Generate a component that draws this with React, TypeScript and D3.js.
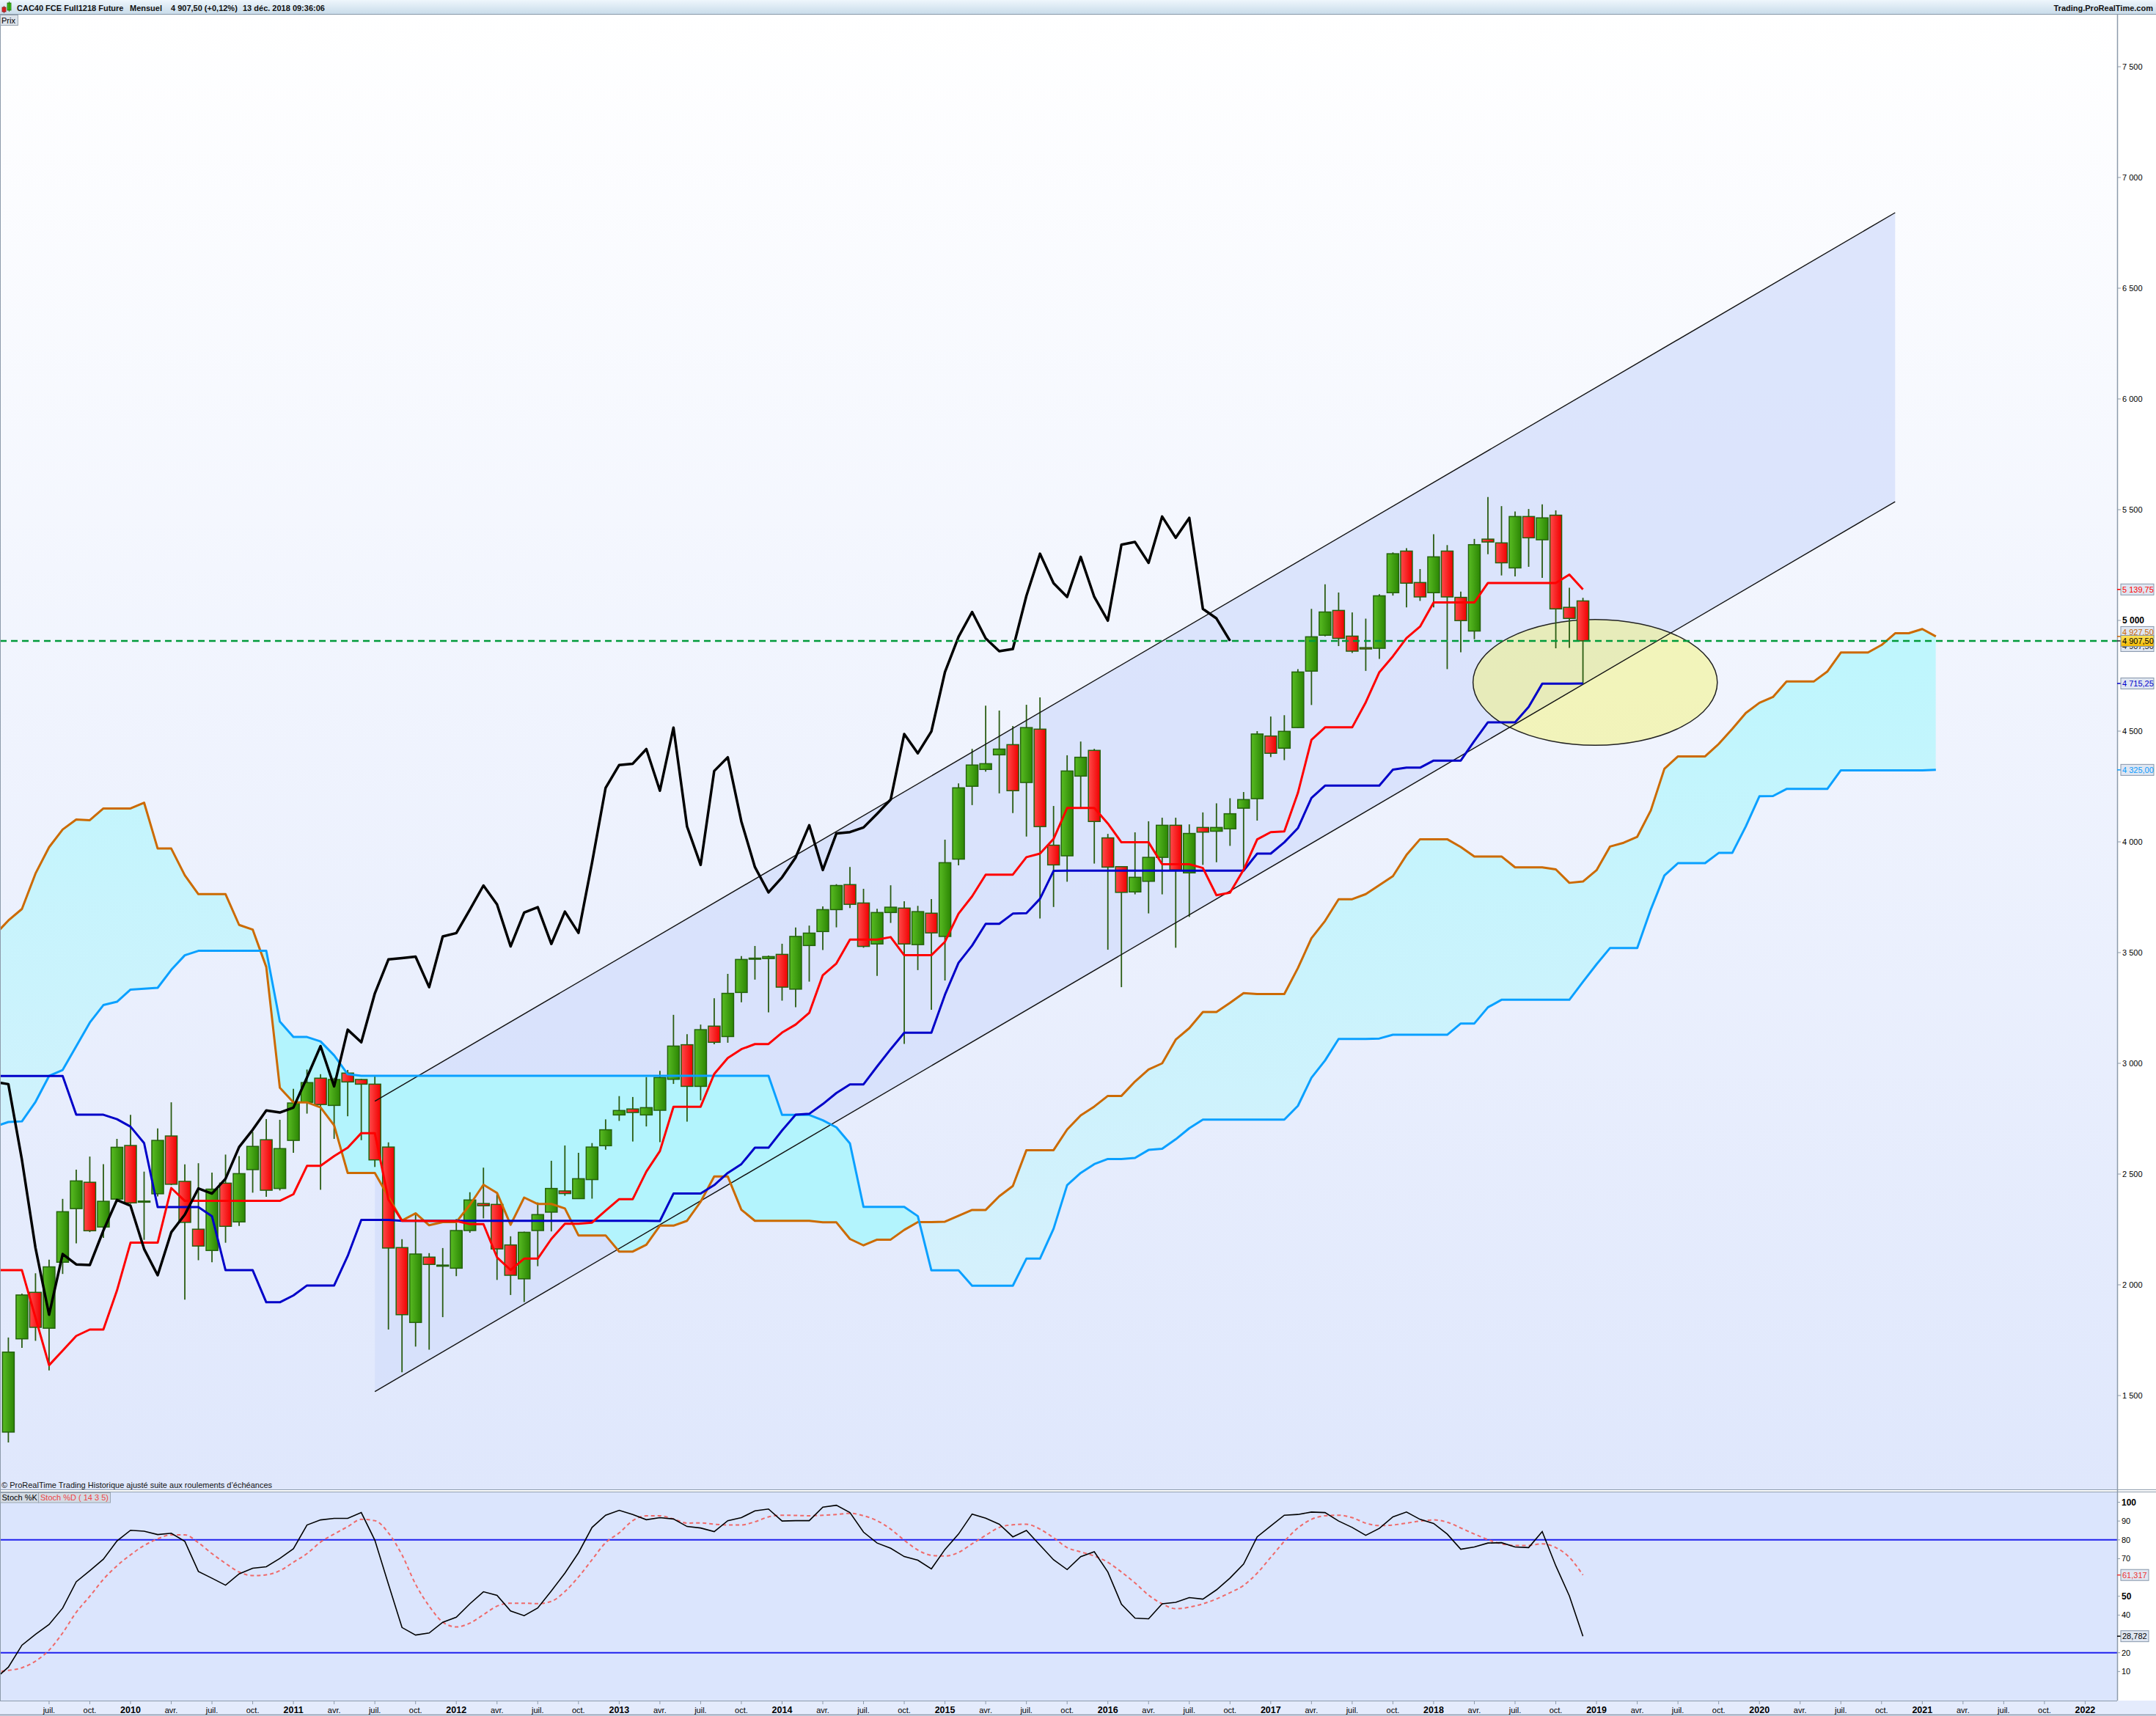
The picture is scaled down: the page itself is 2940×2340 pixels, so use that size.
import { useEffect, useRef } from 'react';
import * as d3 from 'd3';

/**
 * CAC40 FCE monthly chart (ProRealTime style)
 *
 * Candles + Ichimoku + channel, stochastic panel below
 */

// Monthly candles, month index 0 = April 2009, last = December 2018
const opens = [
  1335, 1756, 1966, 1804, 2102, 2344, 2463, 2261, 2387, 2629,
  2378, 2411, 2672, 2467, 2251, 2155, 2459, 2284, 2520, 2655,
  2435, 2652, 2824, 2933, 2810, 2956, 2927, 2906, 2622, 2168,
  1830, 2125, 2087, 2075, 2245, 2367, 2363, 2180, 2027, 2245,
  2328, 2424, 2389, 2475, 2628, 2767, 2794, 2767, 2788, 2928,
  3084, 2896, 3168, 3121, 3320, 3473, 3473, 3492, 3335, 3532,
  3595, 3694, 3807, 3724, 3539, 3681, 3701, 3536, 3678, 3573,
  3922, 4251, 4327, 4393, 4439, 4268, 4509, 3985, 3937, 4297,
  4413, 4018, 3888, 3774, 3822, 3930, 4075, 3860, 4065, 4048,
  4059, 4152, 4195, 4478, 4423, 4516, 4771, 4933, 5045, 4929,
  4877, 4874, 5125, 5313, 5171, 5125, 5313, 5104, 4952, 5367,
  5350, 5237, 5469, 5364, 5475, 5059, 5088,
];
const highs = [
  1762, 1960, 2052, 2113, 2388, 2520, 2579, 2545, 2659, 2767,
  2511, 2706, 2824, 2544, 2549, 2507, 2588, 2581, 2690, 2748,
  2745, 2885, 2972, 2951, 2935, 2970, 2930, 2943, 2643, 2206,
  2324, 2143, 2166, 2297, 2418, 2529, 2413, 2219, 2240, 2372,
  2560, 2629, 2596, 2640, 2747, 2852, 2848, 2938, 2966, 3219,
  3132, 3175, 3294, 3404, 3484, 3530, 3487, 3540, 3613, 3622,
  3709, 3809, 3887, 3788, 3698, 3804, 3732, 3711, 3742, 4010,
  4264, 4420, 4615, 4593, 4523, 4619, 4652, 4162, 4391, 4453,
  4420, 4036, 3888, 4043, 4093, 4109, 4109, 4079, 4133, 4174,
  4197, 4225, 4500, 4566, 4572, 4780, 5052, 5163, 5126, 5036,
  5008, 5118, 5307, 5326, 5232, 5389, 5340, 5130, 5368, 5557,
  5516, 5492, 5503, 5524, 5497, 5147, 5102,
];
const lows = [
  1288, 1715, 1747, 1613, 2049, 2187, 2238, 2212, 2380, 2365,
  2203, 2399, 2450, 1933, 2111, 2102, 2190, 2266, 2416, 2397,
  2426, 2596, 2773, 2429, 2659, 2761, 2653, 2532, 1798, 1605,
  1721, 1707, 1854, 2039, 2235, 2300, 2022, 1954, 1922, 2084,
  2241, 2402, 2389, 2389, 2610, 2740, 2647, 2715, 2644, 2907,
  2737, 2833, 3086, 3093, 3276, 3378, 3230, 3283, 3253, 3369,
  3512, 3614, 3701, 3522, 3395, 3634, 3088, 3421, 3242, 3374,
  3894, 4166, 4317, 4219, 4130, 4024, 3654, 3706, 3820, 4151,
  3902, 3513, 3344, 3763, 3677, 3763, 3522, 3661, 3896, 3908,
  3982, 3870, 4096, 4383, 4369, 4514, 4618, 4928, 4884, 4853,
  4772, 4826, 5112, 5059, 5088, 5059, 4780, 4856, 4915, 5299,
  5203, 5199, 5242, 5192, 4874, 4876, 4714,
];
const closes = [
  1696, 1954, 1808, 2081, 2330, 2469, 2244, 2377, 2621, 2370,
  2378, 2652, 2454, 2282, 2175, 2432, 2264, 2502, 2625, 2427,
  2615, 2821, 2913, 2814, 2927, 2916, 2906, 2564, 2166, 1865,
  2139, 2092, 2089, 2245, 2383, 2357, 2162, 2043, 2237, 2317,
  2435, 2412, 2479, 2622, 2700, 2787, 2778, 2800, 2936, 3078,
  2896, 3152, 3095, 3316, 3469, 3475, 3482, 3344, 3573, 3588,
  3694, 3803, 3718, 3528, 3681, 3705, 3539, 3685, 3589, 3906,
  4244, 4347, 4353, 4419, 4231, 4516, 4069, 3896, 4320, 4382,
  4092, 3886, 3772, 3840, 3930, 4075, 3873, 4038, 4044, 4065,
  4127, 4191, 4487, 4400, 4499, 4767, 4926, 5038, 4919, 4861,
  4871, 5111, 5301, 5168, 5106, 5287, 5106, 4999, 5342, 5354,
  5260, 5469, 5373, 5463, 5052, 5009, 4907.5,
];

// Ichimoku lines, first value = March 2009 (index -1)
const tenkan = [
  2066,
  2066, 2066, 1851, 1637, 1703, 1769, 1798, 1798, 1974, 2190,
  2190, 2190, 2437, 2379, 2379, 2379, 2379, 2379, 2379, 2379,
  2379, 2409, 2537, 2537, 2581, 2619, 2685, 2685, 2385, 2289,
  2289, 2288, 2288, 2288, 2274, 2274, 2124, 2067, 2118, 2118,
  2207, 2276, 2276, 2281, 2335, 2387, 2387, 2511, 2604, 2804,
  2804, 2804, 2952, 3024, 3064, 3087, 3087, 3139, 3175, 3228,
  3398, 3451, 3559, 3559, 3559, 3570, 3488, 3488, 3488, 3549,
  3676, 3754, 3852, 3852, 3852, 3931, 3947, 4013, 4153, 4153,
  4153, 4083, 3998, 3998, 3998, 3899, 3899, 3899, 3882, 3759,
  3771, 3874, 4011, 4044, 4047, 4221, 4461, 4517, 4517, 4517,
  4630, 4766, 4838, 4920, 4972, 5081, 5081, 5081, 5081, 5169,
  5169, 5169, 5169, 5169, 5169, 5207, 5139.75,
];
const kijun = [
  2943,
  2943, 2943, 2943, 2943, 2943, 2768, 2768, 2768, 2748, 2714,
  2640, 2351, 2351, 2351, 2351, 2310, 2066, 2066, 2066, 1921,
  1921, 1952, 1997, 1997, 1997, 2130, 2293, 2293, 2293, 2289,
  2289, 2289, 2289, 2289, 2289, 2289, 2289, 2289, 2289, 2289,
  2289, 2289, 2289, 2289, 2289, 2289, 2289, 2289, 2288, 2412,
  2412, 2412, 2450, 2505, 2545, 2619, 2619, 2697, 2768, 2772,
  2816, 2866, 2905, 2905, 2986, 3064, 3138, 3138, 3138, 3310,
  3454, 3532, 3630, 3630, 3676, 3678, 3743, 3869, 3870, 3870,
  3870, 3870, 3870, 3870, 3870, 3870, 3870, 3870, 3870, 3870,
  3870, 3870, 3947, 3947, 3998, 4062, 4198, 4254, 4254, 4254,
  4254, 4254, 4326, 4335, 4335, 4367, 4367, 4367, 4456, 4540,
  4540, 4540, 4609, 4714, 4714, 4714, 4715.25,
];
// Senkou spans, first value = March 2009, last = February 2021
const senkouA = [
  3580,
  3645, 3697, 3857, 3976, 4056, 4101, 4098, 4151, 4151, 4151,
  4177, 3970, 3970, 3849, 3764, 3764, 3764, 3625, 3604, 3435,
  2890, 2824, 2824, 2801, 2720, 2505,
  2505, 2505, 2397, 2290, 2323, 2269, 2283, 2283, 2361, 2452,
  2415, 2271, 2394, 2365, 2365, 2345, 2223, 2223, 2223, 2150,
  2150, 2181, 2267, 2267, 2289, 2375, 2489, 2489, 2339, 2289,
  2289, 2289, 2289, 2289, 2282, 2282, 2207, 2178, 2204, 2204,
  2248, 2283, 2283, 2285, 2312, 2338, 2338, 2400, 2446, 2608,
  2608, 2608, 2701, 2765, 2805, 2853, 2853, 2918, 2972, 3000,
  3107, 3159, 3232, 3232, 3273, 3317, 3313, 3313, 3313, 3430,
  3565, 3643, 3741, 3741, 3764, 3805, 3845, 3941, 4012, 4012,
  4012, 3977, 3934, 3934, 3934, 3885, 3885, 3885, 3876, 3815,
  3821, 3872, 3979, 3996, 4023, 4142, 4330, 4386, 4386, 4386,
  4442, 4510, 4582, 4628, 4654, 4724, 4724, 4724, 4769, 4855,
  4855, 4855, 4889, 4942, 4942, 4961, 4927.5,
];
const senkouB = [
  2714,
  2735, 2738, 2826, 2943, 2970, 3077, 3184, 3263, 3278, 3333,
  3337, 3341, 3422, 3488, 3508, 3508, 3508, 3508, 3508, 3508,
  3189, 3119, 3119, 3099, 3036, 2951, 2944, 2944, 2944, 2944,
  2944, 2944, 2944, 2944, 2944, 2944, 2944, 2944, 2944, 2944,
  2944, 2944, 2944, 2944, 2944, 2944, 2944, 2944, 2944, 2944,
  2944, 2944, 2944, 2944, 2944, 2944, 2944, 2767, 2767, 2767,
  2743, 2711, 2638, 2352, 2352, 2352, 2352, 2310, 2065, 2065,
  2065, 1996, 1996, 1996, 1996, 2118, 2118, 2253, 2450, 2505,
  2545, 2568, 2568, 2573, 2609, 2614, 2657, 2707, 2746, 2746,
  2746, 2746, 2746, 2746, 2746, 2808, 2935, 3013, 3110, 3110,
  3110, 3112, 3129, 3129, 3129, 3129, 3129, 3180, 3180, 3253,
  3287, 3287, 3287, 3287, 3287, 3287, 3368, 3447, 3521, 3521,
  3521, 3695, 3848, 3904, 3904, 3904, 3950, 3950, 4070, 4206,
  4207, 4239, 4239, 4239, 4239, 4323, 4323, 4323, 4323, 4323,
  4323, 4323, 4325,
];

// Stochastic %K and %D (14 3 5), first value = March 2009
const stochK = [
  6,
  12.3, 24.0, 29.8, 35.0, 43.7, 57.7, 63.6, 69.7, 79.4, 85.1,
  84.6, 82.8, 83.5, 79.2, 63.2, 59.6, 55.9, 61.9, 64.9, 65.7,
  70.1, 75.3, 87.9, 90.6, 91.4, 91.4, 94.5, 79.8, 56.4, 33.4,
  29.4, 30.5, 36.2, 38.9, 46.0, 52.4, 50.5, 42.2, 39.7, 43.8,
  52.8, 62.3, 73.1, 86.6, 93.1, 95.7, 93.5, 90.7, 91.8, 91.1,
  87.1, 86.3, 84.4, 90.2, 91.8, 95.4, 96.4, 90.0, 90.2, 90.2,
  97.4, 98.4, 94.5, 84.1, 78.3, 75.5, 71.1, 69.2, 64.6, 74.9,
  83.1, 93.7, 91.5, 88.3, 81.6, 85.0, 77.2, 69.4, 64.2, 71.1,
  73.7, 62.9, 45.8, 38.4, 38.0, 46.0, 46.8, 49.3, 48.5, 53.4,
  59.7, 67.1, 81.6, 87.4, 93.1, 93.5, 94.8, 94.5, 90.0, 86.6,
  82.4, 86.1, 92.2, 94.8, 90.9, 88.7, 83.1, 75.0, 76.2, 78.3,
  78.5, 76.2, 75.9, 84.4, 66.2, 50.2, 28.782,
];
const stochD = [
  9.9,
  10.6, 12.0, 15.5, 21.4, 30.5, 41.5, 50.0, 59.0, 66.2, 72.0,
  77.0, 80.5, 82.7, 82.7, 78.5, 72.7, 67.5, 62.9, 61.0, 61.4,
  63.6, 68.1, 72.7, 78.8, 83.1, 87.0, 90.9, 90.2, 83.7, 72.0,
  56.4, 44.8, 36.3, 33.7, 35.7, 40.2, 44.8, 46.3, 46.3, 46.1,
  47.3, 52.5, 60.3, 69.4, 78.5, 83.7, 90.2, 92.8, 92.8, 91.1,
  88.9, 89.0, 88.3, 87.9, 87.9, 89.6, 92.2, 93.1, 93.0, 92.8,
  93.1, 93.5, 94.1, 92.8, 90.2, 85.7, 79.8, 74.6, 71.8, 71.4,
  73.3, 77.9, 82.4, 86.6, 88.0, 88.3, 85.7, 81.1, 75.9, 73.6,
  71.4, 68.1, 62.9, 57.1, 50.6, 46.0, 43.4, 44.2, 46.0, 48.6,
  51.9, 55.8, 62.3, 70.7, 79.2, 86.3, 90.9, 92.8, 93.1, 91.8,
  88.9, 87.6, 87.9, 88.9, 90.0, 90.6, 89.4, 86.3, 83.1, 80.1,
  77.9, 77.0, 77.0, 77.9, 75.9, 70.7, 61.317,
];

const priceTicks = [1500, 2000, 2500, 3000, 3500, 4000, 4500, 5000, 5500, 6000, 6500, 7000, 7500];
const stochTicks = [10, 20, 40, 50, 70, 80, 90, 100];
const stochLevels = [20, 80];
const monthNames = ['janv.', 'févr.', 'mars', 'avr.', 'mai', 'juin', 'juil.', 'août', 'sept.', 'oct.', 'nov.', 'déc.'];

// hand-drawn channel (month index, price) and highlighted zone
const channelMonths = [27, 139];
const channelUpper = [2829, 6841];
const channelLower = [1518, 5536];
const zoneCenter = [116.9, 4720];
const zoneRadius = [9, 284];

const lastPrice = 4907.5;
const priceTags = [
  { value: 5139.75, color: '#ff0000' },
  { value: 4927.5, color: '#cc6600' },
  { value: 4907.5, color: '#222222' },
  { value: 4715.25, color: '#0000cc' },
  { value: 4325, color: '#0a9cff' },
];
const stochTags = [
  { value: 61.317, color: '#ee3333' },
  { value: 28.782, color: '#000000' },
];

const W = 2940;
const H = 2340;
const FONT = "'Liberation Sans', Arial, sans-serif";

export default function App() {
  const svgRef = useRef<SVGSVGElement>(null);

  useEffect(() => {
    if (!svgRef.current) return;
    document.body.style.margin = '0';

    const plotRight = 2887;
    const mainTop = 20;
    const mainBottom = 2031;
    const stochTop = 2035;
    const stochBottom = 2319;

    const svg = d3.select(svgRef.current);
    svg.selectAll('*').remove();
    svg.attr('width', W).attr('height', H).style('font-family', FONT);

    const fr = d3.formatLocale({ decimal: ',', thousands: ' ', grouping: [3], currency: ['', ''] });
    const fmtInt = fr.format(',.0f');
    const fmt2 = fr.format(',.2f');
    const fmt3 = fr.format('.3f');

    // Scales
    const x = d3.scaleLinear().domain([0, 116]).range([11.4, 11.4 + 18.51 * 116]);
    const y = d3.scaleLinear().domain([1500, 7500]).range([1903, 91]);
    const ys = d3.scaleLinear().domain([0, 100]).range([2305, 2048.5]);

    // Defs
    const defs = svg.append('defs');
    const grad = (id: string, stops: [string, string], horiz = false) => {
      const lg = defs.append('linearGradient').attr('id', id)
        .attr('x1', 0).attr('y1', 0).attr('x2', horiz ? 1 : 0).attr('y2', horiz ? 0 : 1);
      lg.append('stop').attr('offset', '0%').attr('stop-color', stops[0]);
      lg.append('stop').attr('offset', '100%').attr('stop-color', stops[1]);
    };
    grad('bgMain', ['#ffffff', '#dfe7fc']);
    grad('bgHeader', ['#eef6fc', '#c9dcea']);
    grad('candleUp', ['#58bb22', '#2c8604'], true);
    grad('candleDown', ['#ff4a4a', '#f00000'], true);
    grad('tagYellow', ['#ffe45c', '#f2b800']);
    const cloudUp = defs.append('linearGradient').attr('id', 'cloudUp')
      .attr('gradientUnits', 'userSpaceOnUse').attr('x1', 0).attr('y1', 900).attr('x2', 0).attr('y2', 1800);
    cloudUp.append('stop').attr('offset', '0%').attr('stop-color', '#bff6fd');
    cloudUp.append('stop').attr('offset', '100%').attr('stop-color', '#d6f0fc');

    defs.append('clipPath').attr('id', 'clipMain')
      .append('rect').attr('x', 0).attr('y', mainTop).attr('width', plotRight).attr('height', mainBottom - mainTop);
    defs.append('clipPath').attr('id', 'clipStoch')
      .append('rect').attr('x', 0).attr('y', stochTop).attr('width', plotRight).attr('height', stochBottom - stochTop);

    const aboveArea = d3.area<number>()
      .x((_, k) => x(k - 1))
      .y0(0)
      .y1((v) => y(v));
    defs.append('clipPath').attr('id', 'clipAboveA').append('path').attr('d', aboveArea(senkouA) || '');
    defs.append('clipPath').attr('id', 'clipAboveB').append('path').attr('d', aboveArea(senkouB) || '');

    // Backgrounds
    svg.append('rect').attr('width', W).attr('height', H).attr('fill', '#ffffff');
    svg.append('rect').attr('x', 0).attr('y', mainTop).attr('width', plotRight).attr('height', mainBottom - mainTop)
      .attr('fill', 'url(#bgMain)');
    svg.append('rect').attr('x', 0).attr('y', stochTop).attr('width', plotRight).attr('height', stochBottom - stochTop)
      .attr('fill', '#dbe5fd');
    svg.append('rect').attr('x', 0).attr('y', stochBottom).attr('width', W).attr('height', H - stochBottom)
      .attr('fill', '#e4ebfc');

    const main = svg.append('g').attr('clip-path', 'url(#clipMain)');

    // Channel band
    const chPts: [number, number][] = [
      [x(channelMonths[0]), y(channelUpper[0])],
      [x(channelMonths[1]), y(channelUpper[1])],
      [x(channelMonths[1]), y(channelLower[1])],
      [x(channelMonths[0]), y(channelLower[0])],
    ];
    main.append('polygon').attr('points', chPts.map((p) => p.join(',')).join(' '))
      .attr('fill', '#d3defb').attr('opacity', 0.75);

    // Kumo (cloud)
    const cloudArea = d3.area<number>()
      .x((_, k) => x(k - 1))
      .y0((_, k) => y(senkouB[k]))
      .y1((v) => y(v));
    main.append('g').attr('clip-path', 'url(#clipAboveA)')
      .append('path').attr('d', cloudArea(senkouA) || '').attr('fill', '#b3f4fd');
    main.append('g').attr('clip-path', 'url(#clipAboveB)')
      .append('path').attr('d', cloudArea(senkouA) || '').attr('fill', 'url(#cloudUp)');

    // Highlighted zone (under the price marks)
    main.append('ellipse')
      .attr('cx', x(zoneCenter[0]))
      .attr('cy', y(zoneCenter[1]))
      .attr('rx', x(zoneCenter[0] + zoneRadius[0]) - x(zoneCenter[0]))
      .attr('ry', y(zoneCenter[1] - zoneRadius[1]) - y(zoneCenter[1]))
      .attr('fill', 'rgba(244,244,120,0.5)')
      .attr('stroke', '#222')
      .attr('stroke-width', 1.5);

    // Candles
    const candles = opens.map((o, i) => ({ i, o, h: highs[i], l: lows[i], c: closes[i] }));
    const bodyW = 16;
    main.selectAll('.wick')
      .data(candles)
      .enter()
      .append('line')
      .attr('class', 'wick')
      .attr('x1', (d) => x(d.i))
      .attr('x2', (d) => x(d.i))
      .attr('y1', (d) => y(d.h))
      .attr('y2', (d) => y(d.l))
      .attr('stroke', '#2a5c12')
      .attr('stroke-width', 1.8);
    main.selectAll('.body')
      .data(candles)
      .enter()
      .append('rect')
      .attr('class', 'body')
      .attr('x', (d) => x(d.i) - bodyW / 2)
      .attr('y', (d) => y(Math.max(d.o, d.c)))
      .attr('width', bodyW)
      .attr('height', (d) => Math.max(1.5, Math.abs(y(d.o) - y(d.c))))
      .attr('fill', (d) => (d.c >= d.o ? 'url(#candleUp)' : 'url(#candleDown)'))
      .attr('stroke', '#24620c')
      .attr('stroke-width', 1.5);

    // Channel lines
    main.append('line')
      .attr('x1', chPts[0][0]).attr('y1', chPts[0][1]).attr('x2', chPts[1][0]).attr('y2', chPts[1][1])
      .attr('stroke', '#111').attr('stroke-width', 1.4);
    main.append('line')
      .attr('x1', chPts[3][0]).attr('y1', chPts[3][1]).attr('x2', chPts[2][0]).attr('y2', chPts[2][1])
      .attr('stroke', '#111').attr('stroke-width', 1.4);

    // Ichimoku lines
    const lineFrom = (offset: number) => d3.line<number>().x((_, k) => x(k + offset)).y((v) => y(v));
    const drawLine = (data: number[], offset: number, color: string, width: number) =>
      main.append('path').attr('d', lineFrom(offset)(data) || '')
        .attr('fill', 'none').attr('stroke', color).attr('stroke-width', width)
        .attr('stroke-linejoin', 'round');
    drawLine(senkouA, -1, '#cc6a00', 3);
    drawLine(senkouB, -1, '#0aa0ff', 3);
    drawLine(kijun, -1, '#0000c8', 3);
    drawLine(tenkan, -1, '#ff0000', 3);
    drawLine(closes, -26, '#000000', 3.5); // chikou span

    // Last price dashed line
    main.append('line')
      .attr('x1', 0).attr('x2', plotRight).attr('y1', y(lastPrice)).attr('y2', y(lastPrice))
      .attr('stroke', '#009a3a').attr('stroke-width', 2.5).attr('stroke-dasharray', '9,6');

    // Stochastic panel
    const stoch = svg.append('g').attr('clip-path', 'url(#clipStoch)');
    stoch.selectAll('.lvl')
      .data(stochLevels)
      .enter()
      .append('line')
      .attr('x1', 0).attr('x2', plotRight)
      .attr('y1', (d) => ys(d)).attr('y2', (d) => ys(d))
      .attr('stroke', '#2020ee').attr('stroke-width', 2);
    const sLine = d3.line<number>().x((_, k) => x(k - 1)).y((v) => ys(v));
    stoch.append('path').attr('d', sLine.curve(d3.curveMonotoneX)(stochD) || '')
      .attr('fill', 'none').attr('stroke', '#ef6a6a').attr('stroke-width', 2).attr('stroke-dasharray', '5,4');
    stoch.append('path').attr('d', d3.line<number>().x((_, k) => x(k - 1)).y((v) => ys(v))(stochK) || '')
      .attr('fill', 'none').attr('stroke', '#000').attr('stroke-width', 1.6);

    // Panel borders
    const border = '#8d9bab';
    svg.append('line').attr('x1', 0.5).attr('x2', 0.5).attr('y1', mainTop).attr('y2', stochBottom).attr('stroke', border);
    svg.append('line').attr('x1', plotRight + 0.5).attr('x2', plotRight + 0.5).attr('y1', mainTop).attr('y2', stochBottom)
      .attr('stroke', border).attr('stroke-width', 1.5);
    [mainBottom, stochTop - 1, stochBottom].forEach((yy) => {
      svg.append('line').attr('x1', 0).attr('x2', yy === stochBottom ? plotRight : W).attr('y1', yy + 0.5).attr('y2', yy + 0.5)
        .attr('stroke', border).attr('stroke-width', 1.2);
    });
    svg.append('line').attr('x1', 0).attr('x2', W).attr('y1', H - 1.5).attr('y2', H - 1.5).attr('stroke', border).attr('stroke-width', 1.5);

    // Price axis
    const axisG = svg.append('g');
    priceTicks.forEach((t) => {
      axisG.append('line').attr('x1', plotRight).attr('x2', plotRight + 5).attr('y1', y(t)).attr('y2', y(t))
        .attr('stroke', '#8d9bab');
      axisG.append('text').attr('x', plotRight + 7).attr('y', y(t)).attr('dy', '0.35em')
        .attr('font-size', t === 5000 ? '12px' : '11px')
        .attr('font-weight', t === 5000 ? 'bold' : 'normal')
        .attr('fill', '#000').text(fmtInt(t));
    });

    // Price tags
    const tagShift: Record<number, number> = { 1: -6, 2: 7 };
    const drawTag = (g: any, yy: number, label: string, color: string, fill: string) => {
      g.append('rect').attr('x', plotRight + 5).attr('y', yy - 7.5).attr('width', 45).attr('height', 15)
        .attr('fill', fill).attr('stroke', '#8595aa').attr('stroke-width', 1);
      g.append('text').attr('x', plotRight + 7).attr('y', yy).attr('dy', '0.36em')
        .attr('font-size', '11px').attr('fill', color).text(label);
    };
    priceTags.forEach((tag, k) => {
      const yy = y(tag.value);
      axisG.append('line').attr('x1', plotRight).attr('x2', plotRight + 5).attr('y1', yy).attr('y2', yy)
        .attr('stroke', tag.color).attr('stroke-width', 1.5);
      drawTag(axisG, yy + (tagShift[k] || 0), fmt2(tag.value), tag.color, '#dfe6f1');
    });
    drawTag(axisG, y(lastPrice), fmt2(lastPrice), '#000', 'url(#tagYellow)');

    // Stochastic axis
    stochTicks.forEach((t) => {
      axisG.append('line').attr('x1', plotRight).attr('x2', plotRight + 4).attr('y1', ys(t)).attr('y2', ys(t))
        .attr('stroke', '#8d9bab');
      const bold = t === 50 || t === 100;
      axisG.append('text').attr('x', plotRight + 6).attr('y', ys(t)).attr('dy', '0.35em')
        .attr('font-size', bold ? '12px' : '11px').attr('font-weight', bold ? 'bold' : 'normal')
        .text(String(t));
    });
    stochTags.forEach((tag) => {
      const yy = ys(tag.value);
      axisG.append('line').attr('x1', plotRight).attr('x2', plotRight + 5).attr('y1', yy).attr('y2', yy)
        .attr('stroke', tag.color).attr('stroke-width', 1.5);
      axisG.append('rect').attr('x', plotRight + 5).attr('y', yy - 7.5).attr('width', 38).attr('height', 15)
        .attr('fill', '#dfe6f1').attr('stroke', '#8595aa');
      axisG.append('text').attr('x', plotRight + 7).attr('y', yy).attr('dy', '0.36em')
        .attr('font-size', '11px').attr('fill', tag.color).text(fmt3(tag.value));
    });

    // Time axis: one tick per quarter
    const timeG = svg.append('g');
    d3.range(3, 154).forEach((i) => {
      const m = (3 + i) % 12;
      if (m % 3 !== 0) return;
      const year = 2009 + Math.floor((3 + i) / 12);
      timeG.append('line').attr('x1', x(i)).attr('x2', x(i)).attr('y1', stochBottom).attr('y2', stochBottom + 5)
        .attr('stroke', '#8d9bab');
      timeG.append('text').attr('x', x(i)).attr('y', 2336)
        .style('text-anchor', 'middle')
        .attr('font-size', m === 0 ? '12.5px' : '11px')
        .attr('font-weight', m === 0 ? 'bold' : 'normal')
        .text(m === 0 ? String(year) : monthNames[m]);
    });

    // Header bar
    svg.append('rect').attr('x', 0).attr('y', 0).attr('width', W).attr('height', mainTop - 1)
      .attr('fill', 'url(#bgHeader)');
    svg.append('line').attr('x1', 0).attr('x2', W).attr('y1', mainTop - 0.5).attr('y2', mainTop - 0.5)
      .attr('stroke', '#8798a8');
    svg.append('rect').attr('x', 3).attr('y', 10).attr('width', 5).attr('height', 6).attr('fill', '#ff2a2a').attr('stroke', '#7a1010').attr('stroke-width', 0.8);
    svg.append('line').attr('x1', 5.5).attr('x2', 5.5).attr('y1', 8).attr('y2', 18).attr('stroke', '#7a1010').attr('stroke-width', 0.8);
    svg.append('rect').attr('x', 10).attr('y', 4).attr('width', 5).attr('height', 10).attr('fill', '#3fc21a').attr('stroke', '#1d6a0a').attr('stroke-width', 0.8);
    svg.append('line').attr('x1', 12.5).attr('x2', 12.5).attr('y1', 2).attr('y2', 16).attr('stroke', '#1d6a0a').attr('stroke-width', 0.8);
    const header = [
      { x: 23, t: 'CAC40 FCE Full1218 Future' },
      { x: 177, t: 'Mensuel' },
      { x: 233, t: '4 907,50 (+0,12%)' },
      { x: 331, t: '13 déc. 2018 09:36:06' },
    ];
    header.forEach((h) => {
      svg.append('text').attr('x', h.x).attr('y', 14.5).attr('font-size', '11px').attr('font-weight', 'bold')
        .attr('fill', '#111').text(h.t);
    });
    svg.append('text').attr('x', W - 4).attr('y', 14.5).style('text-anchor', 'end')
      .attr('font-size', '11px').attr('font-weight', 'bold').attr('fill', '#111').text('Trading.ProRealTime.com');

    // Panel labels
    svg.append('rect').attr('x', 0.5).attr('y', mainTop + 0.5).attr('width', 24).attr('height', 14)
      .attr('fill', '#dde3ea').attr('stroke', '#9aa6b2');
    svg.append('text').attr('x', 2).attr('y', mainTop + 11.5).attr('font-size', '11px').text('Prix');

    svg.append('text').attr('x', 2).attr('y', 2029).attr('font-size', '11px').attr('fill', '#111')
      .text('© ProRealTime Trading  Historique ajusté suite aux roulements d\u2019échéances');

    svg.append('rect').attr('x', 0.5).attr('y', stochTop + 0.5).attr('width', 52).attr('height', 13.5)
      .attr('fill', '#d3dbe4').attr('stroke', '#9aa6b2');
    svg.append('rect').attr('x', 52.5).attr('y', stochTop + 0.5).attr('width', 98).attr('height', 13.5)
      .attr('fill', '#d3dbe4').attr('stroke', '#9aa6b2');
    svg.append('text').attr('x', 2.5).attr('y', stochTop + 11).attr('font-size', '11px').text('Stoch %K');
    svg.append('text').attr('x', 55).attr('y', stochTop + 11).attr('font-size', '11px').attr('fill', '#ee4444')
      .text('Stoch %D ( 14 3 5)');
  }, []);

  return (
    <div style={{ position: 'absolute', left: 0, top: 0 }}>
      <svg ref={svgRef} width={W} height={H} />
    </div>
  );
}
